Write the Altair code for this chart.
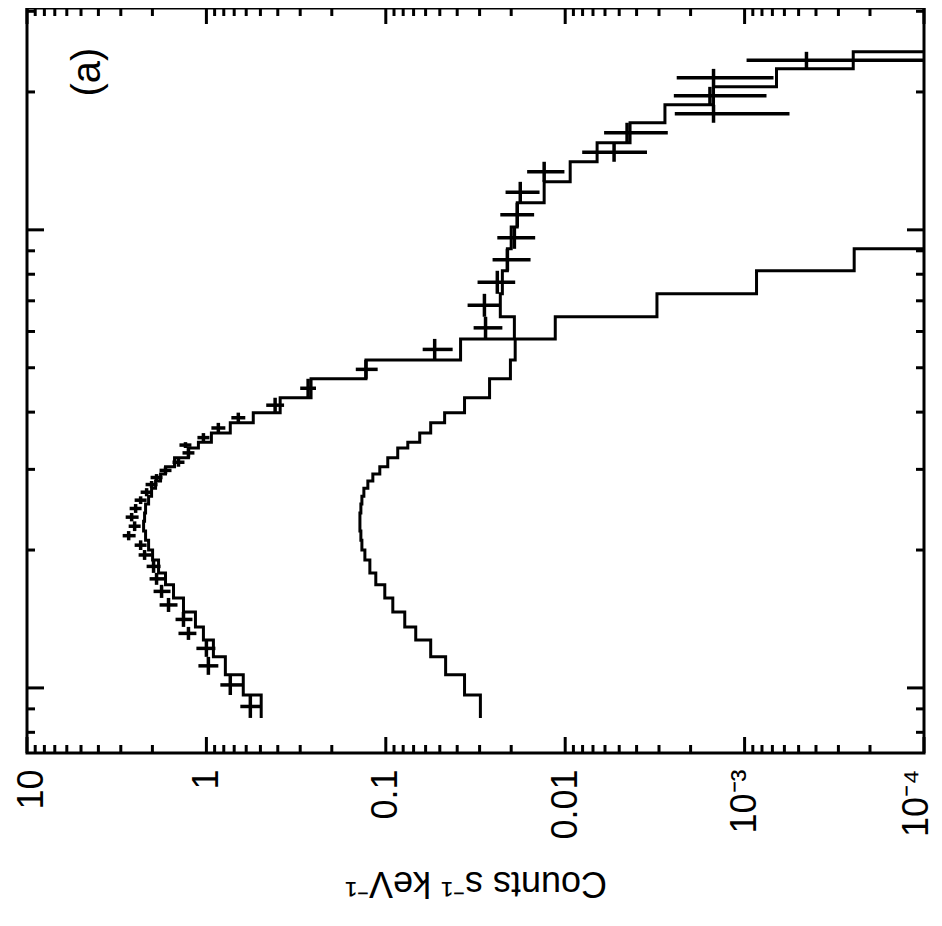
import math
import altair as alt
import pandas as pd

# ---------------- data ----------------
# energy bin edges, keV
edges = [0.86, 0.965, 1.068, 1.169, 1.273, 1.359, 1.465, 1.572, 1.679, 1.783, 1.903,
         2.00, 2.10, 2.20, 2.31, 2.41, 2.52, 2.62, 2.73, 2.83, 2.93, 3.04,
         3.18, 3.34, 3.44, 3.60, 3.79, 3.99, 4.30, 4.73, 5.20, 5.78, 6.46, 7.25, 8.14,
         9.09, 10.15, 11.46, 12.73, 14.08, 15.49, 17.13, 18.75, 20.52, 22.46, 24.47, 30.5]

# total model, counts s^-1 keV^-1 per bin
model_total = [0.495, 0.623, 0.784, 0.914, 1.039, 1.151, 1.342, 1.525, 1.690, 1.848,
               1.995, 2.100, 2.183, 2.239, 2.211, 2.183, 2.100, 2.021, 1.920, 1.801, 1.690,
               1.505, 1.259, 1.108, 0.938, 0.736, 0.548, 0.388, 0.261, 0.129, 0.0383,
               0.0192, 0.0230, 0.0224, 0.0210, 0.0200, 0.0185, 0.0131, 0.00938, 0.00664,
               0.00435, 0.00278, 0.00149, 0.000664, 0.000248, 0.00006]

# soft component
model_soft = [0.0297, 0.0364, 0.0464, 0.0562, 0.0681, 0.0784, 0.0914, 0.1013, 0.1137, 0.1227,
              0.1308, 0.1359, 0.1377, 0.1394, 0.1394, 0.1377, 0.1359, 0.1325, 0.1259, 0.1181,
              0.1080, 0.0975, 0.0858, 0.0754, 0.0647, 0.0562, 0.0470, 0.0364, 0.0264, 0.0202,
              0.0190, 0.01136, 0.00308, 0.000858, 0.000245, 0.00005]

# observed rates and their error range
data_rate = [0.569, 0.736, 0.975, 1.0, 1.259, 1.342, 1.626, 1.778, 1.896, 1.970,
             2.211, 2.326, 2.712, 2.512, 2.610, 2.480, 2.326, 2.154, 2.021, 1.896, 1.690,
             1.431, 1.259, 1.308, 1.039, 0.858, 0.664, 0.414, 0.271, 0.129,
             0.0534, 0.0278, 0.0282, 0.0239, 0.0210, 0.0192, 0.0185, 0.0178, 0.0131,
             0.00534, 0.00452, 0.00149, 0.00156, 0.00149, 0.000452]
data_hi = [0.647, 0.836, 1.108, 1.137, 1.431, 1.486, 1.824, 1.970, 2.074, 2.154,
           2.387, 2.512, 2.929, 2.712, 2.818, 2.679, 2.512, 2.326, 2.183, 2.047, 1.824,
           1.545, 1.359, 1.413, 1.122, 0.938, 0.726, 0.464, 0.300, 0.147,
           0.0623, 0.0324, 0.0350, 0.0308, 0.0254, 0.0239, 0.0230, 0.0215, 0.0163,
           0.00804, 0.00607, 0.00245, 0.00248, 0.00239, 0.000975]
data_lo = [0.495, 0.623, 0.858, 0.891, 1.137, 1.196, 1.449, 1.585, 1.711, 1.801,
           2.021, 2.154, 2.480, 2.326, 2.387, 2.297, 2.154, 1.995, 1.872, 1.756, 1.565,
           1.325, 1.166, 1.212, 0.962, 0.784, 0.607, 0.369, 0.245, 0.111,
           0.0424, 0.0224, 0.0230, 0.0190, 0.0156, 0.0147, 0.0149, 0.0139, 0.0101,
           0.00350, 0.00268, 0.000562, 0.000755, 0.000690, 0.00001]

# axis ticks
count_major = [10, 1, 0.1, 0.01, 0.001, 0.0001]
count_minor = [m * 10.0 ** p for p in range(-4, 1) for m in range(2, 10)]
energy_major = [1, 10]
energy_minor = [0.8, 0.9, 2, 3, 4, 5, 6, 7, 8, 9, 20, 30]

panel_label = ["(a)"]
panel_label_pos = [(4.58, 22.1)]  # (counts, keV)

# ---------------- build tables ----------------
W, H = 897, 745
FONT = "Liberation Sans"


def steps(vals):
    rows = []
    for i, v in enumerate(vals):
        rows.append({"E": edges[i], "c": v, "o": 2 * i})
        rows.append({"E": edges[i + 1], "c": v, "o": 2 * i + 1})
    return pd.DataFrame(rows)


data = pd.DataFrame({
    "E_lo": edges[:len(data_rate)],
    "E_hi": edges[1:len(data_rate) + 1],
    "c": data_rate,
    "lo": data_lo,
    "hi": data_hi,
})
data["Em"] = [math.sqrt(a * b) for a, b in zip(data["E_lo"], data["E_hi"])]

xscale = alt.Scale(type="log", domain=[1e-4, 10], reverse=True, nice=False)
yscale = alt.Scale(type="log", domain=[0.721, 30.5], nice=False)

xaxis = alt.Axis(
    values=count_major,
    labelExpr="datum.value > 0.005 ? format(datum.value, '~g') : (datum.value > 0.0005 ? '10⁻³' : '10⁻⁴')",
    labelAngle=270, labelFontSize=36, labelFont=FONT, labelColor="black",
    labelPadding=16, labelFlush=False, labelOverlap=False,
    labelOffset={"condition": [{"test": "datum.value < 0.0005", "value": -8},
                               {"test": "datum.value > 5", "value": 4}],
                 "value": 0},
    ticks=False, tickSize=0, domain=False, grid=False,
    title="Counts s⁻¹ keV⁻¹", titleFont=FONT, titleFontSize=36,
    titleFontWeight="normal", titleColor="black", titleAngle=180,
    titleBaseline="bottom", titlePadding=24,
)


def X(f):
    return alt.X(f, type="quantitative", scale=xscale, axis=xaxis)


def Y(f):
    return alt.Y(f, type="quantitative", scale=yscale, axis=None)


total_line = alt.Chart(steps(model_total)).mark_line(
    color="black", strokeWidth=3, clip=True, strokeJoin="miter"
).encode(x=X("c"), y=Y("E"), order="o:Q")

soft_line = alt.Chart(steps(model_soft)).mark_line(
    color="black", strokeWidth=3, clip=True, strokeJoin="miter"
).encode(x=X("c"), y=Y("E"), order="o:Q")

ebars = alt.Chart(data).mark_rule(color="black", strokeWidth=3.5, clip=True).encode(
    x=X("c"), y=Y("E_lo"), y2="E_hi")
cbars = alt.Chart(data).mark_rule(color="black", strokeWidth=3.5, clip=True).encode(
    x=X("lo"), x2="hi", y=Y("Em"))

cmaj = pd.DataFrame({"c": count_major})
cmin = pd.DataFrame({"c": count_minor})
emaj = pd.DataFrame({"E": energy_major})
emin = pd.DataFrame({"E": energy_minor})


def xticks(df, length):
    bottom = alt.Chart(df).mark_rule(color="black", strokeWidth=3).encode(
        x=X("c"), y=alt.value(H), y2=alt.value(H - length))
    top = alt.Chart(df).mark_rule(color="black", strokeWidth=3).encode(
        x=X("c"), y=alt.value(0), y2=alt.value(length))
    return [bottom, top]


def yticks(df, length):
    left = alt.Chart(df).mark_rule(color="black", strokeWidth=3).encode(
        y=Y("E"), x=alt.value(0), x2=alt.value(length))
    right = alt.Chart(df).mark_rule(color="black", strokeWidth=3).encode(
        y=Y("E"), x=alt.value(W), x2=alt.value(W - length))
    return [left, right]


lab = pd.DataFrame({"t": panel_label,
                    "c": [p[0] for p in panel_label_pos],
                    "E": [p[1] for p in panel_label_pos]})
label = alt.Chart(lab).mark_text(angle=270, fontSize=40, font=FONT, color="black").encode(
    x=X("c"), y=Y("E"), text="t:N")

layers = [total_line, soft_line, ebars, cbars, label]
layers += xticks(cmaj, 16) + xticks(cmin, 8) + yticks(emaj, 17) + yticks(emin, 8)

chart = alt.layer(*layers).properties(
    width=W, height=H,
    autosize=alt.AutoSizeParams(type="none"),
    padding={"left": 19, "top": 0, "right": 10, "bottom": 165},
    background="white",
).configure_view(stroke="black", strokeWidth=3)

chart.save("out.html", embed_options={"renderer": "svg", "actions": False})
